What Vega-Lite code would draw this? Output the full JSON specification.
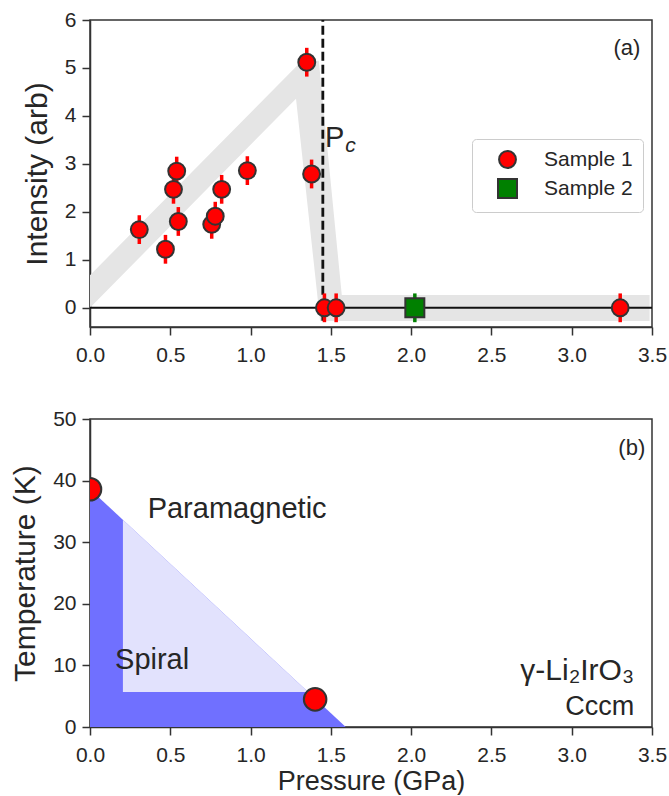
{
  "$schema": "https://vega.github.io/schema/vega-lite/v6.json",
  "background": "white",
  "padding": {"left": 9, "top": 8, "right": 0, "bottom": 0},
  "spacing": 41,
  "config": {
    "font": "Liberation Sans",
    "view": {"stroke": "#333333", "strokeWidth": 1.5},
    "axis": {
      "domainColor": "#333333", "domainWidth": 1.5,
      "tickColor": "#333333", "tickWidth": 1.5, "tickSize": 8,
      "labelFont": "Liberation Sans", "labelFontSize": 21, "labelColor": "#262626",
      "titleFont": "Liberation Sans", "titleFontSize": 28, "titleFontWeight": "normal", "titleColor": "#262626",
      "grid": false, "labelFlush": false, "titlePadding": 6
    },
    "axisX": {"labelPadding": 9, "titlePadding": 3, "titleFontSize": 27},
    "axisY": {"labelPadding": 6, "titleFontSize": 30, "titlePadding": 12},
    "text": {"font": "Liberation Sans", "color": "#262626"}
  },
  "datasets": {
    "band": [
      {"k": 0, "P": 0, "I": 0},
      {"k": 1, "P": 0, "I": 0.68},
      {"k": 2, "P": 1.32, "I": 5.15},
      {"k": 3, "P": 1.425, "I": 5.15},
      {"k": 4, "P": 1.568, "I": 0.265},
      {"k": 5, "P": 3.485, "I": 0.265},
      {"k": 6, "P": 3.485, "I": -0.275},
      {"k": 7, "P": 1.433, "I": -0.275},
      {"k": 8, "P": 1.283, "I": 4.36}
    ],
    "pts": [
      {"sample": "Sample 1", "P": 0.307, "I": 1.63, "err": 0.3},
      {"sample": "Sample 1", "P": 0.47, "I": 1.22, "err": 0.3},
      {"sample": "Sample 1", "P": 0.52, "I": 2.47, "err": 0.3},
      {"sample": "Sample 1", "P": 0.54, "I": 2.85, "err": 0.3},
      {"sample": "Sample 1", "P": 0.55, "I": 1.8, "err": 0.3},
      {"sample": "Sample 1", "P": 0.758, "I": 1.74, "err": 0.3},
      {"sample": "Sample 1", "P": 0.78, "I": 1.91, "err": 0.3},
      {"sample": "Sample 1", "P": 0.82, "I": 2.47, "err": 0.3},
      {"sample": "Sample 1", "P": 0.98, "I": 2.86, "err": 0.3},
      {"sample": "Sample 1", "P": 1.35, "I": 5.12, "err": 0.3},
      {"sample": "Sample 1", "P": 1.38, "I": 2.79, "err": 0.3},
      {"sample": "Sample 1", "P": 1.46, "I": 0, "err": 0.3},
      {"sample": "Sample 1", "P": 1.533, "I": 0, "err": 0.3},
      {"sample": "Sample 1", "P": 3.302, "I": 0, "err": 0.3},
      {"sample": "Sample 2", "P": 2.023, "I": 0, "err": 0.3}
    ]
  },
  "resolve": {"legend": {"color": "independent", "shape": "independent", "size": "independent"}},
  "vconcat": [
    {
      "width": 562,
      "height": 307,
      "layer": [
        {
          "data": {"name": "band"},
          "mark": {"type": "line", "fill": "#e5e5e5", "strokeWidth": 0, "stroke": "#e5e5e5"},
          "encoding": {
            "x": {"field": "P", "type": "quantitative", "scale": {"domain": [0, 3.5], "nice": false, "zero": false},
                  "axis": {"values": [0, 0.5, 1, 1.5, 2, 2.5, 3, 3.5], "format": ".1f", "title": null}},
            "y": {"field": "I", "type": "quantitative", "scale": {"domain": [-0.4, 6], "nice": false, "zero": false},
                  "axis": {"values": [0, 1, 2, 3, 4, 5, 6], "title": "Intensity (arb)"}},
            "order": {"field": "k", "type": "quantitative"}
          }
        },
        {
          "data": {"values": [{}]},
          "mark": {"type": "rule", "color": "#111111", "strokeWidth": 2},
          "encoding": {"y": {"datum": 0, "type": "quantitative"}}
        },
        {
          "data": {"values": [{}]},
          "mark": {"type": "rule", "color": "#111111", "strokeWidth": 2.8, "strokeDash": [9, 4]},
          "encoding": {
            "x": {"datum": 1.45, "type": "quantitative"},
            "y": {"datum": -0.27, "type": "quantitative"},
            "y2": {"datum": 6}
          }
        },
        {
          "data": {"name": "pts"},
          "transform": [{"filter": "datum.sample === 'Sample 1'"}],
          "mark": {"type": "errorbar", "color": "#ff0000", "thickness": 3.5},
          "encoding": {
            "x": {"field": "P", "type": "quantitative", "title": null},
            "y": {"field": "I", "type": "quantitative", "title": "Intensity (arb)"},
            "yError": {"field": "err"}
          }
        },
        {
          "data": {"name": "pts"},
          "transform": [{"filter": "datum.sample === 'Sample 2'"}],
          "mark": {"type": "errorbar", "color": "#008000", "thickness": 3.5},
          "encoding": {
            "x": {"field": "P", "type": "quantitative", "title": null},
            "y": {"field": "I", "type": "quantitative", "title": "Intensity (arb)"},
            "yError": {"field": "err"}
          }
        },
        {
          "data": {"name": "pts"},
          "mark": {"type": "point", "filled": true, "opacity": 1, "stroke": "#333333", "strokeWidth": 2},
          "encoding": {
            "x": {"field": "P", "type": "quantitative", "title": null},
            "y": {"field": "I", "type": "quantitative", "title": "Intensity (arb)"},
            "color": {"field": "sample", "type": "nominal",
                      "scale": {"domain": ["Sample 1", "Sample 2"], "range": ["#ff0000", "#008000"]},
                      "legend": {"orient": "none", "legendX": 382, "legendY": 119, "title": null,
                                 "padding": 10, "strokeColor": "#cccccc", "cornerRadius": 4, "fillColor": "white",
                                 "labelFontSize": 21, "labelColor": "#262626", "labelFont": "Liberation Sans",
                                 "labelOffset": 26, "symbolOffset": 15, "rowPadding": 3,
                                 "symbolStrokeColor": "#333333", "symbolStrokeWidth": 2}},
            "shape": {"field": "sample", "type": "nominal",
                      "scale": {"domain": ["Sample 1", "Sample 2"], "range": ["circle", "square"]},
                      "legend": {"orient": "none", "legendX": 382, "legendY": 119, "title": null,
                                 "padding": 10, "strokeColor": "#cccccc", "cornerRadius": 4, "fillColor": "white",
                                 "labelFontSize": 21, "labelColor": "#262626", "labelFont": "Liberation Sans",
                                 "labelOffset": 26, "symbolOffset": 15, "rowPadding": 3,
                                 "symbolStrokeColor": "#333333", "symbolStrokeWidth": 2}},
            "size": {"field": "sample", "type": "nominal",
                     "scale": {"domain": ["Sample 1", "Sample 2"], "range": [285, 361]},
                     "legend": {"orient": "none", "legendX": 382, "legendY": 119, "title": null,
                                "padding": 10, "strokeColor": "#cccccc", "cornerRadius": 4, "fillColor": "white",
                                "labelFontSize": 21, "labelColor": "#262626", "labelFont": "Liberation Sans",
                                "labelOffset": 26, "symbolOffset": 15, "rowPadding": 3,
                                "symbolStrokeColor": "#333333", "symbolStrokeWidth": 2}}
          }
        },
        {
          "data": {"values": [{"P": 3.427, "I": 5.265, "t": "(a)"}]},
          "mark": {"type": "text", "align": "right", "baseline": "alphabetic", "fontSize": 22},
          "encoding": {
            "x": {"field": "P", "type": "quantitative", "title": null},
            "y": {"field": "I", "type": "quantitative", "title": "Intensity (arb)"},
            "text": {"field": "t"}
          }
        },
        {
          "data": {"values": [{"P": 1.464, "I": 3.35, "t": "P"}]},
          "mark": {"type": "text", "align": "left", "baseline": "alphabetic", "fontSize": 29},
          "encoding": {
            "x": {"field": "P", "type": "quantitative", "title": null},
            "y": {"field": "I", "type": "quantitative", "title": "Intensity (arb)"},
            "text": {"field": "t"}
          }
        },
        {
          "data": {"values": [{"P": 1.589, "I": 3.25, "t": "c"}]},
          "mark": {"type": "text", "align": "left", "baseline": "alphabetic", "fontSize": 21, "fontStyle": "italic"},
          "encoding": {
            "x": {"field": "P", "type": "quantitative", "title": null},
            "y": {"field": "I", "type": "quantitative", "title": "Intensity (arb)"},
            "text": {"field": "t"}
          }
        }
      ]
    },
    {
      "width": 562,
      "height": 308,
      "layer": [
        {
          "data": {"values": [{"P": 0, "T": 38.6, "T0": 0}, {"P": 1.593, "T": 0, "T0": 0}]},
          "mark": {"type": "area", "color": "#7070ff", "opacity": 1},
          "encoding": {
            "x": {"field": "P", "type": "quantitative", "scale": {"domain": [0, 3.5], "nice": false, "zero": false},
                  "axis": {"values": [0, 0.5, 1, 1.5, 2, 2.5, 3, 3.5], "format": ".1f"}, "title": "Pressure (GPa)"},
            "y": {"field": "T", "type": "quantitative", "scale": {"domain": [0, 50], "nice": false},
                  "axis": {"values": [0, 10, 20, 30, 40, 50]}, "title": "Temperature (K)"},
            "y2": {"field": "T0"}
          }
        },
        {
          "data": {"values": [{"P": 0.205, "T": 33.63, "T0": 5.68}, {"P": 1.359, "T": 5.68, "T0": 5.68}]},
          "mark": {"type": "area", "color": "#e2e2fd", "opacity": 1},
          "encoding": {
            "x": {"field": "P", "type": "quantitative", "title": "Pressure (GPa)"},
            "y": {"field": "T", "type": "quantitative", "title": "Temperature (K)"},
            "y2": {"field": "T0"}
          }
        },
        {
          "data": {"values": [{"P": 0, "T": 38.6}, {"P": 1.402, "T": 4.49}]},
          "mark": {"type": "point", "filled": true, "opacity": 1, "color": "#ff0000", "stroke": "#333333", "strokeWidth": 2, "size": 510, "clip": true},
          "encoding": {
            "x": {"field": "P", "type": "quantitative", "title": "Pressure (GPa)"},
            "y": {"field": "T", "type": "quantitative", "title": "Temperature (K)"}
          }
        },
        {
          "data": {"values": [
            {"P": 0.359, "T": 34.0, "t": "Paramagnetic"},
            {"P": 0.156, "T": 9.36, "t": "Spiral"}
          ]},
          "mark": {"type": "text", "align": "left", "baseline": "alphabetic", "fontSize": 29},
          "encoding": {
            "x": {"field": "P", "type": "quantitative", "title": "Pressure (GPa)"},
            "y": {"field": "T", "type": "quantitative", "title": "Temperature (K)"},
            "text": {"field": "t"}
          }
        },
        {
          "data": {"values": [{"P": 3.389, "T": 7.69, "t": "γ-Li₂IrO₃"}]},
          "mark": {"type": "text", "align": "right", "baseline": "alphabetic", "fontSize": 30},
          "encoding": {
            "x": {"field": "P", "type": "quantitative", "title": "Pressure (GPa)"},
            "y": {"field": "T", "type": "quantitative", "title": "Temperature (K)"},
            "text": {"field": "t"}
          }
        },
        {
          "data": {"values": [{"P": 3.389, "T": 1.9, "t": "Cccm"}]},
          "mark": {"type": "text", "align": "right", "baseline": "alphabetic", "fontSize": 27},
          "encoding": {
            "x": {"field": "P", "type": "quantitative", "title": "Pressure (GPa)"},
            "y": {"field": "T", "type": "quantitative", "title": "Temperature (K)"},
            "text": {"field": "t"}
          }
        },
        {
          "data": {"values": [{"P": 3.458, "T": 44.2, "t": "(b)"}]},
          "mark": {"type": "text", "align": "right", "baseline": "alphabetic", "fontSize": 22},
          "encoding": {
            "x": {"field": "P", "type": "quantitative", "title": "Pressure (GPa)"},
            "y": {"field": "T", "type": "quantitative", "title": "Temperature (K)"},
            "text": {"field": "t"}
          }
        }
      ]
    }
  ]
}
